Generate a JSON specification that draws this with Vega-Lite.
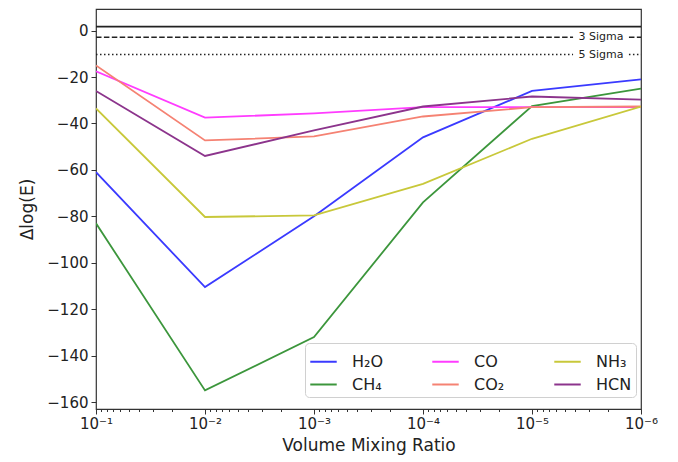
{
  "$schema": "https://vega.github.io/schema/vega-lite/v6.json",
  "width": 545,
  "height": 400,
  "autosize": {"type": "none"},
  "padding": {"left": 96, "top": 9, "right": 37, "bottom": 53},
  "background": "white",
  "config": {
    "font": "DejaVu Sans",
    "view": {"stroke": "#333", "strokeWidth": 1.2},
    "axis": {"labelFont": "DejaVu Sans", "titleFont": "DejaVu Sans", "labelColor": "#222", "titleColor": "#222", "tickColor": "#333", "grid": false, "domain": false, "titleFontWeight": "normal"}
  },
  "datasets": {
    "main": [
      {"vmr": 0.1, "dlogE": -61, "species": "H₂O"},
      {"vmr": 0.01, "dlogE": -110.5, "species": "H₂O"},
      {"vmr": 0.001, "dlogE": -80, "species": "H₂O"},
      {"vmr": 0.0001, "dlogE": -46, "species": "H₂O"},
      {"vmr": 0.00001, "dlogE": -26, "species": "H₂O"},
      {"vmr": 0.000001, "dlogE": -21, "species": "H₂O"},
      {"vmr": 0.1, "dlogE": -83, "species": "CH₄"},
      {"vmr": 0.01, "dlogE": -155, "species": "CH₄"},
      {"vmr": 0.001, "dlogE": -132, "species": "CH₄"},
      {"vmr": 0.0001, "dlogE": -74, "species": "CH₄"},
      {"vmr": 0.00001, "dlogE": -32.5, "species": "CH₄"},
      {"vmr": 0.000001, "dlogE": -25, "species": "CH₄"},
      {"vmr": 0.1, "dlogE": -17.5, "species": "CO"},
      {"vmr": 0.01, "dlogE": -37.5, "species": "CO"},
      {"vmr": 0.001, "dlogE": -35.7, "species": "CO"},
      {"vmr": 0.0001, "dlogE": -33, "species": "CO"},
      {"vmr": 0.00001, "dlogE": -33, "species": "CO"},
      {"vmr": 0.000001, "dlogE": -33, "species": "CO"},
      {"vmr": 0.1, "dlogE": -15, "species": "CO₂"},
      {"vmr": 0.01, "dlogE": -47.3, "species": "CO₂"},
      {"vmr": 0.001, "dlogE": -45.6, "species": "CO₂"},
      {"vmr": 0.0001, "dlogE": -37, "species": "CO₂"},
      {"vmr": 0.00001, "dlogE": -33, "species": "CO₂"},
      {"vmr": 0.000001, "dlogE": -32.7, "species": "CO₂"},
      {"vmr": 0.1, "dlogE": -33.5, "species": "NH₃"},
      {"vmr": 0.01, "dlogE": -80.3, "species": "NH₃"},
      {"vmr": 0.001, "dlogE": -79.6, "species": "NH₃"},
      {"vmr": 0.0001, "dlogE": -66, "species": "NH₃"},
      {"vmr": 0.00001, "dlogE": -46.6, "species": "NH₃"},
      {"vmr": 0.000001, "dlogE": -32.7, "species": "NH₃"},
      {"vmr": 0.1, "dlogE": -26, "species": "HCN"},
      {"vmr": 0.01, "dlogE": -54, "species": "HCN"},
      {"vmr": 0.001, "dlogE": -43, "species": "HCN"},
      {"vmr": 0.0001, "dlogE": -32.7, "species": "HCN"},
      {"vmr": 0.00001, "dlogE": -28.4, "species": "HCN"},
      {"vmr": 0.000001, "dlogE": -29.7, "species": "HCN"}
    ],
    "solid": [{"x": 0.1, "x2": 0.000001, "y": 1.7}],
    "dashed": [
      {"x": 0.1, "x2": 0.0000042, "y": -2.9},
      {"x": 0.00000129, "x2": 0.000001, "y": -2.9}
    ],
    "dotted": [
      {"x": 0.1, "x2": 0.0000042, "y": -10.3},
      {"x": 0.00000129, "x2": 0.000001, "y": -10.3}
    ],
    "labels": [
      {"x": 0.00000233, "y": -2.9, "text": "3 Sigma"},
      {"x": 0.00000233, "y": -10.3, "text": "5 Sigma"}
    ]
  },
  "resolve": {"axis": {"x": "independent"}},
  "layer": [
    {
      "data": {"name": "main"},
      "mark": {"type": "line", "strokeWidth": 1.8, "clip": true},
      "encoding": {
        "x": {
          "field": "vmr", "type": "quantitative",
          "scale": {"type": "log", "domain": [0.000001, 0.1], "reverse": true, "nice": false},
          "axis": {
            "orient": "bottom",
            "title": "Volume Mixing Ratio", "titleFontSize": 17, "titlePadding": 6,
            "values": [0.1, 0.01, 0.001, 0.0001, 0.00001, 0.000001],
            "labelExpr": "'10⁻' + ['', '¹', '²', '³', '⁴', '⁵', '⁶'][round(-log(datum.value) / LN10)]",
            "labelFontSize": 15, "tickSize": 5, "labelPadding": 2, "labelFlush": false
          }
        },
        "y": {
          "field": "dlogE", "type": "quantitative",
          "scale": {"domain": [-163, 9.3], "nice": false, "zero": false},
          "axis": {
            "title": "Δlog(E)", "titleFontSize": 17, "titlePadding": 10,
            "values": [-160, -140, -120, -100, -80, -60, -40, -20, 0],
            "labelExpr": "replace(datum.label, '-', '−')",
            "labelFontSize": 15, "tickSize": 5, "labelPadding": 3
          }
        },
        "color": {
          "field": "species", "type": "nominal",
          "scale": {
            "domain": ["H₂O", "CH₄", "CO", "CO₂", "NH₃", "HCN"],
            "range": ["#3a3aff", "#3c963c", "#ff3cff", "#f58273", "#c8c83a", "#8c348c"]
          },
          "legend": {
            "title": null,
            "orient": "none",
            "legendX": 209,
            "legendY": 334,
            "columns": 3,
            "gridAlign": "all",
            "columnPadding": 40,
            "rowPadding": 0,
            "symbolType": "stroke",
            "symbolSize": 700,
            "symbolStrokeWidth": 2,
            "labelFontSize": 16,
            "labelFont": "DejaVu Sans",
            "labelColor": "#222",
            "labelOffset": 14,
            "fillColor": "white",
            "strokeColor": "#d0d0d0",
            "cornerRadius": 4,
            "padding": 4
          }
        }
      }
    },
    {
      "data": {"name": "solid"},
      "mark": {"type": "rule", "color": "#222", "strokeWidth": 1.8},
      "encoding": {
        "x": {
          "field": "x", "type": "quantitative",
          "axis": {
            "orient": "bottom", "title": null, "labels": false, "domain": false,
            "values": [0.09, 0.08, 0.07, 0.06, 0.05, 0.04, 0.03, 0.02,
                       0.009, 0.008, 0.007, 0.006, 0.005, 0.004, 0.003, 0.002,
                       0.0009, 0.0008, 0.0007, 0.0006, 0.0005, 0.0004, 0.0003, 0.0002,
                       0.00009, 0.00008, 0.00007, 0.00006, 0.00005, 0.00004, 0.00003, 0.00002,
                       0.000009, 0.000008, 0.000007, 0.000006, 0.000005, 0.000004, 0.000003, 0.000002],
            "tickSize": 2.5
          }
        },
        "x2": {"field": "x2"},
        "y": {"field": "y", "type": "quantitative"}
      }
    },
    {
      "data": {"name": "dashed"},
      "mark": {"type": "rule", "color": "#222", "strokeWidth": 1.5, "strokeDash": [5.5, 2.4]},
      "encoding": {
        "x": {"field": "x", "type": "quantitative", "axis": null},
        "x2": {"field": "x2"},
        "y": {"field": "y", "type": "quantitative"}
      }
    },
    {
      "data": {"name": "dotted"},
      "mark": {"type": "rule", "color": "#222", "strokeWidth": 1.5, "strokeDash": [1.5, 2.5]},
      "encoding": {
        "x": {"field": "x", "type": "quantitative", "axis": null},
        "x2": {"field": "x2"},
        "y": {"field": "y", "type": "quantitative"}
      }
    },
    {
      "data": {"name": "labels"},
      "mark": {"type": "text", "fontSize": 11, "color": "#222", "align": "center", "baseline": "middle", "font": "DejaVu Sans"},
      "encoding": {
        "x": {"field": "x", "type": "quantitative", "axis": null},
        "y": {"field": "y", "type": "quantitative"},
        "text": {"field": "text"}
      }
    }
  ]
}
